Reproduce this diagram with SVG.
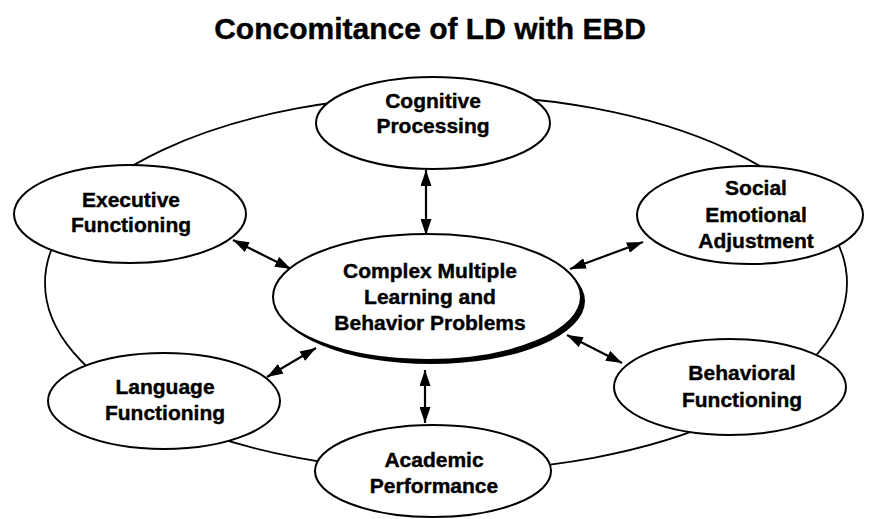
<svg xmlns="http://www.w3.org/2000/svg" width="870" height="519" viewBox="0 0 870 519">
<style>
.t{font-family:"Liberation Sans",Arial,sans-serif;font-weight:bold;fill:#000;text-anchor:middle;stroke:#000;stroke-width:0.4}
.n{font-size:21px}
.node{fill:#fff;stroke:#000;stroke-width:2}
.ring{fill:none;stroke:#000;stroke-width:1.8}
.c{stroke:#000;stroke-width:2.2;fill:none;marker-start:url(#ah);marker-end:url(#ah)}
</style>
<defs>
<marker id="ah" viewBox="0 0 16 11" refX="16" refY="5.5" markerWidth="16" markerHeight="11" markerUnits="userSpaceOnUse" orient="auto-start-reverse">
<path d="M0,0 L16,5.5 L0,11 Z" fill="#000"/>
</marker>
</defs>
<rect width="870" height="519" fill="#fff"/>
<text class="t" x="430" y="39" font-size="30">Concomitance of LD with EBD</text>
<ellipse class="ring" cx="446" cy="283" rx="401" ry="188"/>
<g id="connectors">
<line class="c" x1="426" y1="170" x2="426" y2="235"/>
<line class="c" x1="233" y1="240" x2="291" y2="269"/>
<line class="c" x1="643" y1="242" x2="570" y2="269"/>
<line class="c" x1="267" y1="377" x2="316" y2="348"/>
<line class="c" x1="425" y1="370" x2="425" y2="423"/>
<line class="c" x1="567" y1="335" x2="622" y2="363"/>
</g>
<g id="center">
<ellipse cx="431" cy="301" rx="154" ry="63" fill="#000"/>
<ellipse class="node" cx="427" cy="297" rx="154" ry="63"/>
<text class="t n" x="430" y="278">Complex Multiple</text>
<text class="t n" x="430" y="304">Learning and</text>
<text class="t n" x="430" y="330">Behavior Problems</text>
</g>
<g id="cognitive">
<ellipse class="node" cx="433" cy="123" rx="117" ry="46"/>
<text class="t n" x="433" y="108">Cognitive</text>
<text class="t n" x="433" y="133">Processing</text>
</g>
<g id="executive">
<ellipse class="node" cx="130" cy="214" rx="116" ry="49"/>
<text class="t n" x="131" y="207">Executive</text>
<text class="t n" x="131" y="232">Functioning</text>
</g>
<g id="social">
<ellipse class="node" cx="750" cy="215" rx="113" ry="49"/>
<text class="t n" x="756" y="195">Social</text>
<text class="t n" x="756" y="222">Emotional</text>
<text class="t n" x="756" y="248">Adjustment</text>
</g>
<g id="language">
<ellipse class="node" cx="164" cy="401" rx="116" ry="48"/>
<text class="t n" x="165" y="394">Language</text>
<text class="t n" x="165" y="420">Functioning</text>
</g>
<g id="academic">
<ellipse class="node" cx="433" cy="471" rx="118" ry="46"/>
<text class="t n" x="434" y="467">Academic</text>
<text class="t n" x="434" y="493">Performance</text>
</g>
<g id="behavioral">
<ellipse class="node" cx="730" cy="387" rx="116" ry="48"/>
<text class="t n" x="742" y="380">Behavioral</text>
<text class="t n" x="742" y="407">Functioning</text>
</g>
</svg>
